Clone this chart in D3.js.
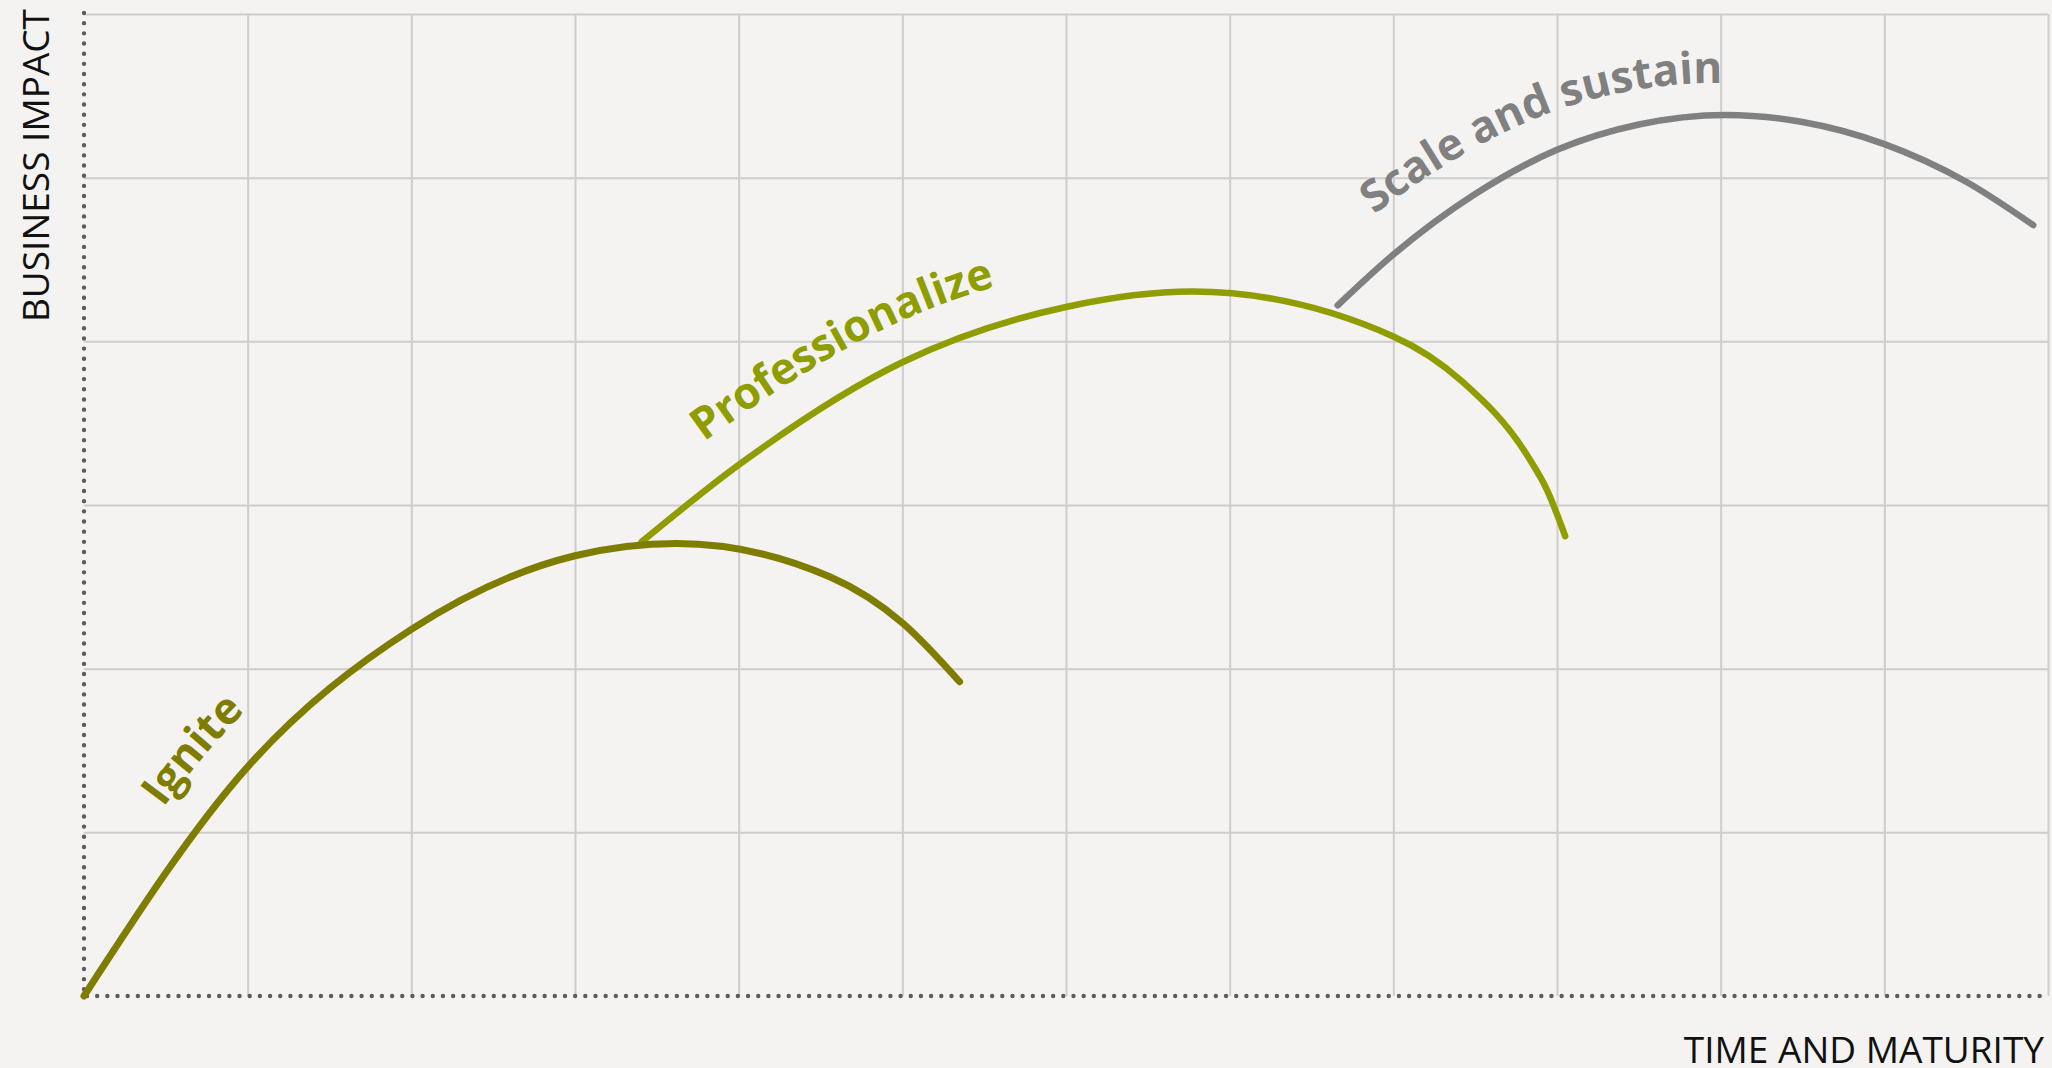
<!DOCTYPE html>
<html>
<head>
<meta charset="utf-8">
<script src="https://cdn.jsdelivr.net/npm/d3@7"></script>
<style>
  html, body { margin: 0; padding: 0; background: #f4f3f1; }
  svg { display: block; }
</style>
</head>
<body>
<svg id="chart" width="2052" height="1068"></svg>
<script>
// Phase curves: time/maturity (x) against business impact (y), in grid units
const igniteX = [0, 1.0, 2.0, 3.0, 3.62, 4.56, 5.0, 5.35];
const igniteY = [0, 1.40, 2.24, 2.69, 2.765, 2.56, 2.28, 1.92];

const professionalizeX = [3.405, 4.0, 5.0, 6.0, 6.77, 8.0, 8.42, 8.82, 8.94, 9.05];
const professionalizeY = [2.773, 3.245, 3.872, 4.21, 4.304, 4.03, 3.755, 3.30, 3.09, 2.81];

const scaleX = [7.66, 8.0, 8.5, 9.0, 9.5, 10.03, 10.5, 11.0, 11.5, 11.91];
const scaleY = [4.22, 4.53, 4.90, 5.17, 5.325, 5.383, 5.34, 5.205, 4.975, 4.71];

const phaseNames = ["Ignite", "Professionalize", "Scale and sustain"];
const phaseColors = ["#7f7d00", "#8f9d00", "#808080"];
const phaseWidths = [7, 6.5, 6.5];
const labelSizes = [44, 44, 44];
// where each phase label begins (x in grid units) and its gap above the curve
const labelStartX = [0.68, 3.93, 8.05];
const labelGapStart = [40, 39, 43];
const labelGapEnd = [40, 37, 31];

const xTicks = d3.range(1, 13);
const yTicks = d3.range(1, 7);
const xTitle = "TIME AND MATURITY";
const yTitle = "BUSINESS IMPACT";

const svg = d3.select("#chart");
const W = 2052, H = 1068;
const plotLeft = 84, plotRight = 2048, plotTop = 14, plotBottom = 996;

svg.append("rect").attr("width", W).attr("height", H).attr("fill", "#f4f3f1");

const x = d3.scaleLinear().domain([0, 12]).range([plotLeft, plotRight]);
const y = d3.scaleLinear().domain([0, 6]).range([plotBottom, plotTop]);

// grid
const gridX = svg.append("g")
  .attr("transform", `translate(0,${plotBottom})`)
  .call(d3.axisBottom(x).tickValues(xTicks).tickSize(-(plotBottom - plotTop)).tickFormat(""));
const gridY = svg.append("g")
  .attr("transform", `translate(${plotLeft},0)`)
  .call(d3.axisLeft(y).tickValues(yTicks).tickSize(-(plotRight - plotLeft)).tickFormat(""));
[gridX, gridY].forEach(g => {
  g.select(".domain").remove();
  g.selectAll(".tick line").attr("stroke", "#cdcdcd").attr("stroke-width", 2);
});

// dotted axes
svg.append("line")
  .attr("x1", plotLeft).attr("x2", plotLeft)
  .attr("y1", y(6) - 1).attr("y2", y(0) - 6)
  .attr("stroke", "#5c5c5c").attr("stroke-width", 4.4)
  .attr("stroke-linecap", "round").attr("stroke-dasharray", "0 10.17");
svg.append("line")
  .attr("x1", x(0) + 3).attr("x2", x(12))
  .attr("y1", plotBottom).attr("y2", plotBottom)
  .attr("stroke", "#5c5c5c").attr("stroke-width", 4.4)
  .attr("stroke-linecap", "round").attr("stroke-dasharray", "0 10.17");

// axis titles
svg.append("text")
  .attr("transform", `translate(49,9) rotate(-90)`)
  .attr("text-anchor", "end")
  .attr("font-family", "'Open Sans', 'Noto Sans', sans-serif")
  .attr("font-size", 37)
  .attr("fill", "#111")
  .text(yTitle);
svg.append("text")
  .attr("x", 2044).attr("y", 1063)
  .attr("text-anchor", "end")
  .attr("font-family", "'Open Sans', 'Noto Sans', sans-serif")
  .attr("font-size", 37)
  .attr("fill", "#111")
  .text(xTitle);

const line = d3.line().x(d => x(d[0])).y(d => y(d[1])).curve(d3.curveMonotoneX);

const series = [
  d3.zip(igniteX, igniteY),
  d3.zip(professionalizeX, professionalizeY),
  d3.zip(scaleX, scaleY)
];

// later phases sit underneath the earlier ones where they branch off
const curveNodes = [];
[2, 1, 0].forEach(i => {
  curveNodes[i] = svg.append("path")
    .attr("d", line(series[i]))
    .attr("fill", "none")
    .attr("stroke", phaseColors[i])
    .attr("stroke-width", phaseWidths[i])
    .attr("stroke-linecap", "round")
    .node();
});

// label baselines: the curve shifted outward along its normal
function labelBaseline(node, startPx, g0, g1, span) {
  const L = node.getTotalLength();
  let s0 = 0;
  for (let s = 0; s <= L; s += 0.5) {
    if (node.getPointAtLength(s).x >= startPx) { s0 = s; break; }
  }
  const pts = [];
  for (let s = s0; s <= L; s += 2) {
    const p = node.getPointAtLength(s);
    const a = node.getPointAtLength(Math.max(0, s - 1));
    const b = node.getPointAtLength(Math.min(L, s + 1));
    let dx = b.x - a.x, dy = b.y - a.y;
    const n = Math.hypot(dx, dy) || 1;
    dx /= n; dy /= n;
    const t = Math.min(1, (s - s0) / span);
    const g = g0 + (g1 - g0) * t;
    pts.push([p.x + dy * g, p.y - dx * g]);
  }
  return d3.line().curve(d3.curveBasis)(pts);
}

const defs = svg.append("defs");
phaseNames.forEach((name, i) => {
  const id = "label-path-" + i;
  defs.append("path")
    .attr("id", id)
    .attr("d", labelBaseline(curveNodes[i], x(labelStartX[i]), labelGapStart[i], labelGapEnd[i], 380));
  svg.append("text")
    .attr("font-family", "'Open Sans', 'Noto Sans', sans-serif")
    .attr("font-weight", 700)
    .attr("font-size", labelSizes[i])
    .attr("fill", phaseColors[i])
    .append("textPath")
    .attr("href", "#" + id)
    .text(name);
});
</script>
</body>
</html>
